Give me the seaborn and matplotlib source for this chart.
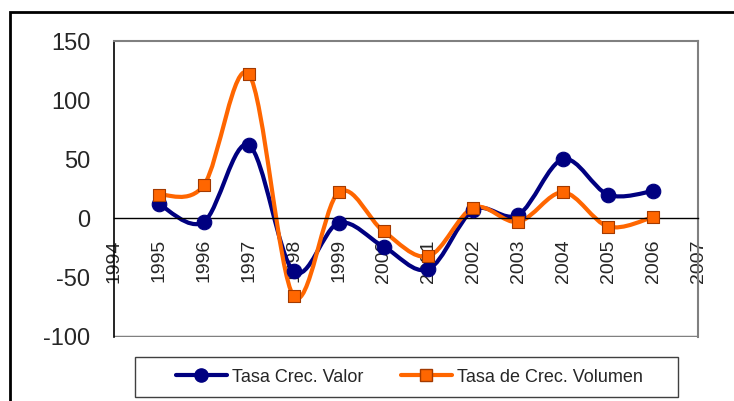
import matplotlib
matplotlib.use('Agg')
import matplotlib.pyplot as plt
import pandas as pd
import seaborn as sns
from matplotlib.path import Path
from matplotlib.patches import PathPatch, Rectangle
from matplotlib.lines import Line2D

# Datos
anios = [1995, 1996, 1997, 1998, 1999, 2000, 2001, 2002, 2003, 2004, 2005, 2006]
crec_valor = [12, -3, 62, -45, -4, -24, -43, 7, 3, 50, 20, 23]
crec_volumen = [20, 28, 122, -66, 22, -11, -32, 9, -3, 22, -7, 1]
ticks_x = list(range(1994, 2008))
ticks_y = [-100, -50, 0, 50, 100, 150]

AZUL = '#000080'
NARANJA = '#FF6600'
GRIS = '#808080'

sns.set_style('white')
plt.rcParams['font.family'] = ['Liberation Sans', 'DejaVu Sans']

dados = pd.DataFrame({
    'anio': anios * 2,
    'tasa': crec_valor + crec_volumen,
    'serie': ['Tasa Crec. Valor'] * len(anios) + ['Tasa de Crec. Volumen'] * len(anios),
})


def curva_suave(xs, ys):
    # segmentos Bezier tipo "línea suavizada" de Excel
    pts = list(zip(xs, ys))
    verts = [pts[0]]
    codes = [Path.MOVETO]
    n = len(pts)
    for i in range(n - 1):
        p0 = pts[max(i - 1, 0)]
        p1 = pts[i]
        p2 = pts[i + 1]
        p3 = pts[min(i + 2, n - 1)]
        c1 = (p1[0] + (p2[0] - p0[0]) / 6, p1[1] + (p2[1] - p0[1]) / 6)
        c2 = (p2[0] - (p3[0] - p1[0]) / 6, p2[1] - (p3[1] - p1[1]) / 6)
        verts += [c1, c2, p2]
        codes += [Path.CURVE4] * 3
    return Path(verts, codes)


fig = plt.figure(figsize=(7.34, 4.01), dpi=100)
ax = fig.add_axes([114 / 734, (401 - 336.5) / 401, 584 / 734, 295.5 / 401])

# eje X cruzando en cero (antes de fijar las etiquetas)
ax.spines['bottom'].set_position(('data', 0))

for ys, col in [(crec_valor, AZUL), (crec_volumen, NARANJA)]:
    ax.add_patch(PathPatch(curva_suave(anios, ys), facecolor='none', edgecolor=col,
                           lw=3, capstyle='round', joinstyle='round', zorder=2))

sns.scatterplot(data=dados[dados['serie'] == 'Tasa Crec. Valor'], x='anio', y='tasa',
                color=AZUL, marker='o', s=110, edgecolor=AZUL, linewidth=0.8,
                ax=ax, zorder=3, legend=False)
sns.scatterplot(data=dados[dados['serie'] == 'Tasa de Crec. Volumen'], x='anio', y='tasa',
                color=NARANJA, marker='s', s=80, edgecolor='#A33A00', linewidth=0.8,
                ax=ax, zorder=4, legend=False)

ax.set_xlim(1994, 2007)
ax.set_ylim(-100, 150)
ax.set_xticks(ticks_x)
ax.set_xticklabels([str(t) for t in ticks_x], rotation=90, fontsize=14, va='top')
ax.set_yticks(ticks_y)
ax.set_yticklabels([str(t) for t in ticks_y], fontsize=17)
ax.set_xlabel('')
ax.set_ylabel('')

ax.spines['bottom'].set_color('black')
ax.spines['bottom'].set_linewidth(1)
ax.spines['left'].set_color('black')
ax.spines['left'].set_linewidth(1.2)
for s in ['top', 'right']:
    ax.spines[s].set_color(GRIS)
    ax.spines[s].set_linewidth(1.5)
ax.axhline(-100, color=GRIS, lw=2.5, zorder=1)

ax.tick_params(axis='x', direction='out', length=5, width=1, color='black', pad=10)
ax.tick_params(axis='y', direction='out', length=7, width=1, color=GRIS, pad=10)

handles = [
    Line2D([], [], color=AZUL, lw=3, marker='o', markersize=9.5, markerfacecolor=AZUL),
    Line2D([], [], color=NARANJA, lw=3, marker='s', markersize=8.5,
           markerfacecolor=NARANJA, markeredgecolor='#A33A00'),
]
leg = fig.legend(handles, ['Tasa Crec. Valor', 'Tasa de Crec. Volumen'],
                 loc='center', ncol=2, bbox_to_anchor=(409.5 / 734, (401 - 377) / 401),
                 fontsize=13, handlelength=2.8, handletextpad=0.3, borderpad=0,
                 frameon=False, columnspacing=2.1)

# marco de la leyenda
fig.patches.append(Rectangle((135 / 734, (401 - 397) / 401), 543 / 734, 40 / 401,
                             transform=fig.transFigure, fill=False,
                             edgecolor='#404040', lw=1))

# marco exterior del gráfico
fig.patches.append(Rectangle((9.5 / 734, -0.2), 1.2, (401 - 12) / 401 + 0.2,
                             transform=fig.transFigure, fill=False,
                             edgecolor='black', lw=2))

fig.savefig('out.png', dpi=100)
